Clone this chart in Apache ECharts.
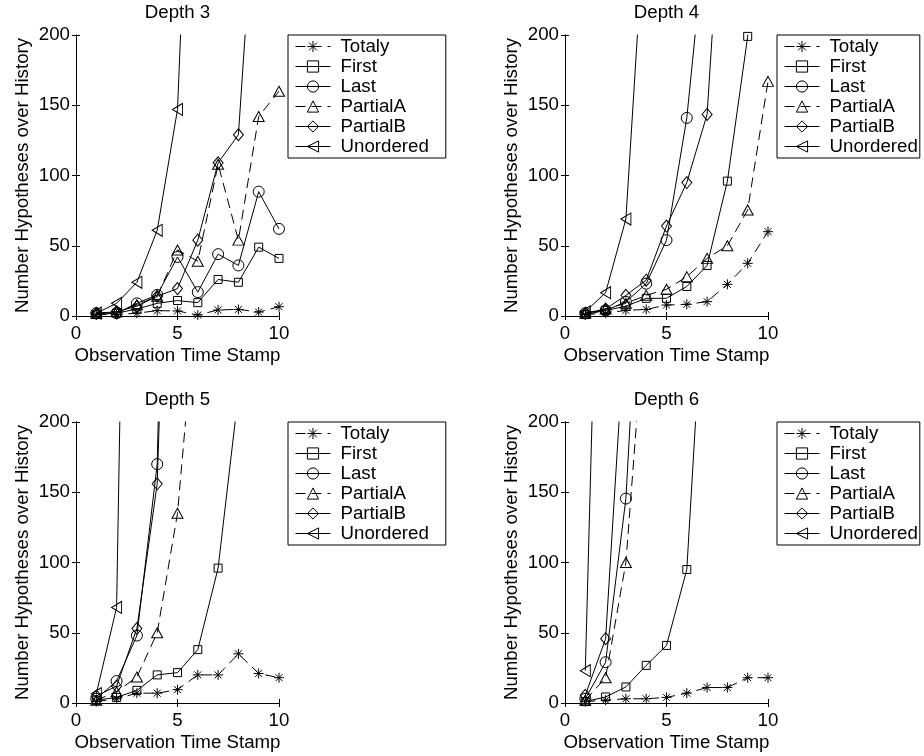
<!DOCTYPE html>
<html>
<head>
<meta charset="utf-8">
<script src="https://cdn.jsdelivr.net/npm/echarts@6/dist/echarts.min.js"></script>
<style>
html,body{margin:0;padding:0;background:#fff;}
#chart{width:924px;height:756px;}
</style>
</head>
<body>
<div id="chart"></div>
<script>
// ---- data ----
const xs = [1, 2, 3, 4, 5, 6, 7, 8, 9, 10];
const seriesNames = ['Totaly', 'First', 'Last', 'PartialA', 'PartialB', 'Unordered'];
const panelTitles = ['Depth 3', 'Depth 4', 'Depth 5', 'Depth 6'];
const xTicks = [0, 5, 10];
const yTicks = [0, 50, 100, 150, 200];

// Depth 3
const totaly3    = [1, 1, 2, 3.8, 3.6, 0.7, 4.3, 4.7, 2.8, 6.6];
const first3     = [1, 2, 5, 9, 11, 9.5, 26, 24, 49, 41];
const last3      = [2, 2, 9, 15, 42, 17, 44, 36, 88.5, 62];
const partialA3  = [2, 3, 8, 14, 47, 39, 108, 54, 142, 160];
const partialB3  = [2, 3, 7, 14, 19.5, 54, 109, 129, 344];
const unordered3 = [2, 9, 24, 61, 147, 500];

// Depth 4
const totaly4    = [1, 2, 4, 4.7, 7.8, 8.3, 10.2, 22.5, 37.5, 60];
const first4     = [1, 4, 7, 12.6, 12.6, 21, 36, 96, 199, 420];
const last4      = [2, 4, 10, 23, 54, 141, 285];
const partialA4  = [2, 5, 9, 14.7, 19, 28, 41, 50, 75.5, 167];
const partialB4  = [2, 5, 14.7, 25.5, 64, 95, 143.5, 370];
const unordered4 = [3, 16.6, 69, 300];

// Depth 5
const totaly5    = [1, 3, 7, 7, 9.5, 20, 20, 35, 21, 18];
const first5     = [2, 4, 9, 20, 21.6, 38, 96, 220];
const last5      = [3, 15.6, 48, 170, 770];
const partialA5  = [2, 8, 18.5, 50, 135, 300];
const partialB5  = [5, 12, 53, 156, 600];
const unordered5 = [6.6, 68, 900];

// Depth 6
const totaly6    = [1, 2, 3, 3, 4, 7, 11, 11, 18, 18];
const first6     = [1, 4.3, 11.4, 26.8, 41, 95, 340];
const last6      = [3, 29, 145.5, 405];
const partialA6  = [2, 18, 100, 290];
const partialB6  = [5.5, 45.8, 279];
const unordered6 = [23, 560];

const panelData = [
  [totaly3, first3, last3, partialA3, partialB3, unordered3],
  [totaly4, first4, last4, partialA4, partialB4, unordered4],
  [totaly5, first5, last5, partialA5, partialB5, unordered5],
  [totaly6, first6, last6, partialA6, partialB6, unordered6]
];

// ---- layout & style ----
const FONT = "'Liberation Sans', Arial, Helvetica, sans-serif";
const FS = 18.7;
const layout = [
  {left: 76,  top: 35,  legendLeft: 288, legendPad: [2, 17, 2, 7]},
  {left: 565, top: 35,  legendLeft: 777, legendPad: [2, 2, 2, 7]},
  {left: 76,  top: 422, legendLeft: 288, legendPad: [2, 17, 2, 7]},
  {left: 565, top: 422, legendLeft: 777, legendPad: [2, 2, 2, 7]}
];
const GW = 203, GH = 281;

const STAR = 'path://M0,-10L0,10M-10,0L10,0M-7,-7L7,7M-7,7L7,-7';
const LTRI = 'path://M0,5L10,0L10,10Z';
const symbolDefs = [
  {symbol: STAR, size: 10, dashed: true},
  {symbol: 'rect', size: 8, dashed: false},
  {symbol: 'circle', size: 11, dashed: false},
  {symbol: 'triangle', size: [11, 10], dashed: true},
  {symbol: 'diamond', size: [10, 12], dashed: false},
  {symbol: LTRI, size: [10, 12], dashed: false}
];

const grids = [], xAxes = [], yAxes = [], series = [], legends = [];
const axisLine = {show: true, lineStyle: {color: '#000', width: 1}};
const tickStyle = {show: true, inside: true, length: 4, lineStyle: {color: '#000', width: 1}};
const labelStyle = {color: '#000', fontSize: FS, fontFamily: FONT};

layout.forEach((L, p) => {
  grids.push({left: L.left, top: L.top, width: GW, height: GH, show: false});
  xAxes.push({
    type: 'value', gridIndex: p, position: 'bottom', min: xTicks[0], max: xTicks[xTicks.length - 1], interval: 5,
    axisLine, axisTick: tickStyle, splitLine: {show: false},
    axisLabel: Object.assign({margin: 8}, labelStyle),
    name: 'Observation Time Stamp', nameLocation: 'middle', nameGap: 30,
    nameTextStyle: labelStyle
  });
  xAxes.push({
    type: 'value', gridIndex: p, position: 'top', min: xTicks[0], max: xTicks[xTicks.length - 1], interval: 5,
    axisLine, axisTick: tickStyle, splitLine: {show: false}, axisLabel: {show: false},
    name: panelTitles[p], nameLocation: 'middle', nameGap: 13,
    nameTextStyle: labelStyle
  });
  yAxes.push({
    type: 'value', gridIndex: p, position: 'left', min: yTicks[0], max: yTicks[yTicks.length - 1], interval: 50,
    axisLine, axisTick: tickStyle, splitLine: {show: false},
    axisLabel: Object.assign({margin: 6}, labelStyle),
    name: 'Number Hypotheses over History', nameLocation: 'middle', nameRotate: 90, nameGap: 44,
    nameTextStyle: labelStyle
  });
  yAxes.push({
    type: 'value', gridIndex: p, position: 'right', min: yTicks[0], max: yTicks[yTicks.length - 1], interval: 50,
    axisLine, axisTick: tickStyle, splitLine: {show: false}, axisLabel: {show: false}
  });
  panelData[p].forEach((vals, s) => {
    const d = symbolDefs[s];
    series.push({
      type: 'line', name: seriesNames[s],
      xAxisIndex: 2 * p, yAxisIndex: 2 * p,
      data: vals.map((v, i) => [xs[i], v]),
      symbol: d.symbol, symbolSize: d.size, showSymbol: true,
      clip: true, silent: true,
      lineStyle: {color: '#000', width: 1, type: d.dashed ? [10, 6] : 'solid'},
      itemStyle: {color: 'rgba(0,0,0,0)', borderColor: '#000', borderWidth: 1},
      emphasis: {disabled: true}
    });
  });
  legends.push({
    left: L.legendLeft, top: L.top, orient: 'vertical',
    itemWidth: 35, itemHeight: 14, itemGap: 1, padding: L.legendPad,
    borderColor: '#000', borderWidth: 1, backgroundColor: '#fff', borderRadius: 0,
    selectedMode: false,
    itemStyle: {borderWidth: 1, borderColor: '#000', color: 'rgba(0,0,0,0)'},
    lineStyle: {width: 1, color: '#000'},
    textStyle: {color: '#000', fontSize: FS, fontFamily: FONT, padding: [0, 0, 0, 5]},
    data: seriesNames
  });
});

const chart = echarts.init(document.getElementById('chart'), null, {renderer: 'canvas'});
chart.setOption({
  backgroundColor: '#fff',
  animation: false,
  textStyle: {fontFamily: FONT},
  grid: grids, xAxis: xAxes, yAxis: yAxes, legend: legends, series: series
});
</script>
</body>
</html>
